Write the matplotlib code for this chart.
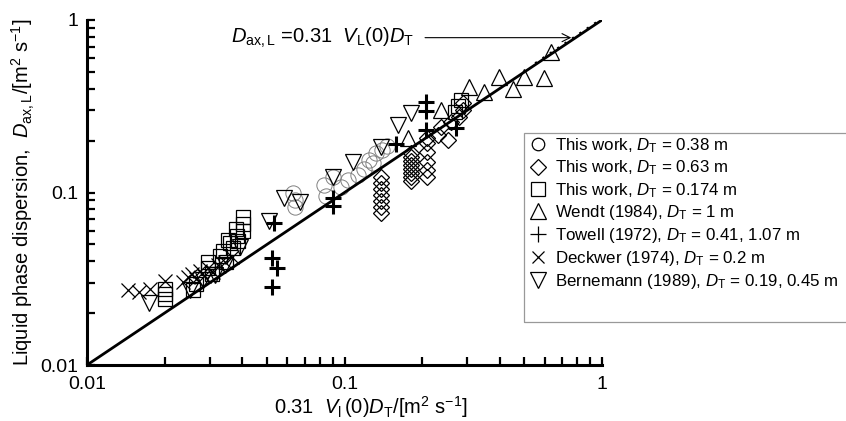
import matplotlib
matplotlib.use("Agg")
import matplotlib.pyplot as plt
from matplotlib.lines import Line2D
from matplotlib.patches import Rectangle
import numpy as np

plt.rcParams['font.family'] = ['Liberation Sans', 'DejaVu Sans']
plt.rcParams['mathtext.fontset'] = 'custom'
plt.rcParams['mathtext.rm'] = 'Liberation Sans'
plt.rcParams['mathtext.it'] = 'Liberation Sans:italic'
plt.rcParams['mathtext.bf'] = 'Liberation Sans:bold'

# ---- data ----
circ_x = [0.0633, 0.0645, 0.0645, 0.0829, 0.0844, 0.0906, 0.0965, 0.1036, 0.1124, 0.1186, 0.1285, 0.1320, 0.1393, 0.1457, 0.1240]
circ_y = [0.0993, 0.0905, 0.0824, 0.1105, 0.0954, 0.1230, 0.1076, 0.1182, 0.1263, 0.1368, 0.1483, 0.1694, 0.1764, 0.1861, 0.1543]

diam_x = [0.138, 0.138, 0.138, 0.138, 0.138, 0.138, 0.138,
          0.181, 0.181, 0.181, 0.181, 0.181, 0.181, 0.181, 0.181,
          0.210, 0.210, 0.210, 0.210, 0.210,
          0.210, 0.230, 0.252, 0.236, 0.259, 0.278, 0.288, 0.288]
diam_y = [0.1230, 0.1135, 0.1047, 0.0967, 0.0893, 0.0824, 0.0761,
          0.1694, 0.1606, 0.1522, 0.1443, 0.1368, 0.1297, 0.1230, 0.1166,
          0.1936, 0.1716, 0.1503, 0.1350, 0.1230,
          0.2069, 0.2154, 0.2015, 0.2398, 0.2563, 0.2740, 0.3008, 0.3303]

sq_x = [0.0201, 0.0201, 0.0201, 0.0259, 0.0266, 0.0296, 0.0296, 0.0306, 0.0329, 0.0338,
        0.0347, 0.0360, 0.0370, 0.0384, 0.0387, 0.0405, 0.0405, 0.0405, 0.0380, 0.0354,
        0.283, 0.275, 0.268]
sq_y = [0.0276, 0.0258, 0.0241, 0.0272, 0.0295, 0.0396, 0.0365, 0.0337, 0.0429, 0.0458,
        0.0396, 0.0510, 0.0477, 0.0560, 0.0524, 0.0721, 0.0657, 0.0598, 0.0614, 0.0530,
        0.344, 0.317, 0.293]

wendt_x = [0.177, 0.236, 0.304, 0.347, 0.397, 0.451, 0.497, 0.595, 0.633]
wendt_y = [0.207, 0.301, 0.409, 0.383, 0.467, 0.398, 0.467, 0.461, 0.652]

towell_x = [0.0530, 0.0525, 0.0549, 0.0525, 0.0906, 0.0906, 0.158, 0.207, 0.207, 0.207, 0.270]
towell_y = [0.0666, 0.0417, 0.0365, 0.0283, 0.0929, 0.0835, 0.191, 0.335, 0.297, 0.230, 0.237]

deck_x = [0.0144, 0.0159, 0.0176, 0.0201, 0.0236, 0.0247, 0.0256, 0.0266, 0.0275, 0.0285, 0.0296, 0.0309, 0.0323, 0.0344, 0.0367]
deck_y = [0.0272, 0.0265, 0.0276, 0.0307, 0.0303, 0.0324, 0.0337, 0.0315, 0.0351, 0.0328, 0.0365, 0.0346, 0.0380, 0.0396, 0.0423]

bern_x = [0.0174, 0.0252, 0.0283, 0.0315, 0.0344, 0.0394, 0.0507, 0.0584, 0.0674, 0.0906, 0.108, 0.139, 0.162, 0.182]
bern_y = [0.0229, 0.0272, 0.0311, 0.0333, 0.0380, 0.0483, 0.0684, 0.0929, 0.0881, 0.123, 0.150, 0.184, 0.246, 0.289]

line_x = [0.01, 1.0]
corr_coef = 1.0  # D_ax,L = 0.31 V_L(0) D_T  (y = x on these axes)

legend_labels = [
    "This work, $D_\\mathrm{T}$ = 0.38 m",
    "This work, $D_\\mathrm{T}$ = 0.63 m",
    "This work, $D_\\mathrm{T}$ = 0.174 m",
    "Wendt (1984), $D_\\mathrm{T}$ = 1 m",
    "Towell (1972), $D_\\mathrm{T}$ = 0.41, 1.07 m",
    "Deckwer (1974), $D_\\mathrm{T}$ = 0.2 m",
    "Bernemann (1989), $D_\\mathrm{T}$ = 0.19, 0.45 m",
]

# ---- figure ----
fig = plt.figure(figsize=(8.46, 4.21), dpi=100)
ax = fig.add_axes([87/846, 56/421, 515/846, 345/421])
ax.set_xscale('log')
ax.set_yscale('log')
ax.set_xlim(0.01, 1)
ax.set_ylim(0.01, 1)

lx = np.array(line_x)
ax.plot(lx, corr_coef*lx, color='black', lw=2.0, zorder=5)
ax.plot(lx[1]*np.array([0.55, 0.97]), corr_coef*1.02*lx[1]*np.array([0.55, 0.97]),
        color='black', lw=1.6, ls=(0, (1, 3)), zorder=5)

kw = dict(ls='none', mfc='none', zorder=3)
ax.plot(circ_x, circ_y, marker='o', ms=11, mec='#808080', mew=0.7, **kw)
ax.plot(diam_x, diam_y, marker='D', ms=8, mec='black', mew=0.9, **kw)
ax.plot(sq_x, sq_y, marker='s', ms=10.5, mec='black', mew=0.9, **kw)
ax.plot(wendt_x, wendt_y, marker='^', ms=11.5, mec='black', mew=0.9, **kw)
ax.plot(towell_x, towell_y, marker='+', ms=12, mec='black', mew=2.2, **kw)
ax.plot(deck_x, deck_y, marker='x', ms=10, mec='black', mew=0.9, **kw)
ax.plot(bern_x, bern_y, marker='v', ms=11.5, mec='black', mew=0.9, **kw)

for s in ['top', 'right']:
    ax.spines[s].set_visible(False)
for s in ['left', 'bottom']:
    ax.spines[s].set_linewidth(2.2)

ax.tick_params(which='both', direction='in', width=1.6, length=6, labelsize=14)
ax.tick_params(axis='y', pad=6)
ax.tick_params(axis='x', pad=8)
ax.set_xticks([0.01, 0.1, 1])
ax.set_xticklabels(['0.01', '0.1', '1'])
ax.set_yticks([0.01, 0.1, 1])
ax.set_yticklabels(['0.01', '0.1', '1'])

ax.set_xlabel("0.31  $V_\\mathrm{l}\\,(0)D_\\mathrm{T}$/[m$^2$ s$^{-1}$]", fontsize=14.5)
ax.xaxis.set_label_coords(0.551, -0.085)
ax.set_ylabel("Liquid phase dispersion,  $D_\\mathrm{ax,L}$/[m$^2$ s$^{-1}$]", fontsize=14.5)
ax.yaxis.set_label_coords(-0.097, 0.5)

ax.annotate("$D_\\mathrm{ax,L}$ =0.31  $V_\\mathrm{L}(0)D_\\mathrm{T}$",
            xy=(0.76, 0.79), xytext=(0.0362, 0.79), textcoords='data',
            fontsize=14.5, va='center', ha='left',
            arrowprops=dict(arrowstyle='->', lw=0.8, color='black',
                            shrinkA=6, shrinkB=0))

# legend
handles = [
    Line2D([], [], ls='none', marker='o', ms=9, mfc='none', mec='black', mew=0.9),
    Line2D([], [], ls='none', marker='D', ms=8, mfc='none', mec='black', mew=0.9),
    Line2D([], [], ls='none', marker='s', ms=10, mfc='none', mec='black', mew=0.9),
    Line2D([], [], ls='none', marker='^', ms=11, mfc='none', mec='black', mew=0.9),
    Line2D([], [], ls='none', marker='+', ms=11, mfc='none', mec='black', mew=0.9),
    Line2D([], [], ls='none', marker='x', ms=9, mfc='none', mec='black', mew=0.9),
    Line2D([], [], ls='none', marker='v', ms=11, mfc='none', mec='black', mew=0.9),
]
fig.patches.append(Rectangle((524/846, 1-322/421), 330/846, 189/421,
                             transform=fig.transFigure, fill=False,
                             edgecolor='#999999', lw=0.9))
leg = fig.legend(handles, legend_labels, loc='upper left',
                 bbox_to_anchor=(524/846, 1-131/421), frameon=False,
                 fontsize=12.2, handlelength=1.0, handletextpad=0.55,
                 labelspacing=0.22, borderpad=0.3, borderaxespad=0)

fig.savefig('out.png', dpi=100)
